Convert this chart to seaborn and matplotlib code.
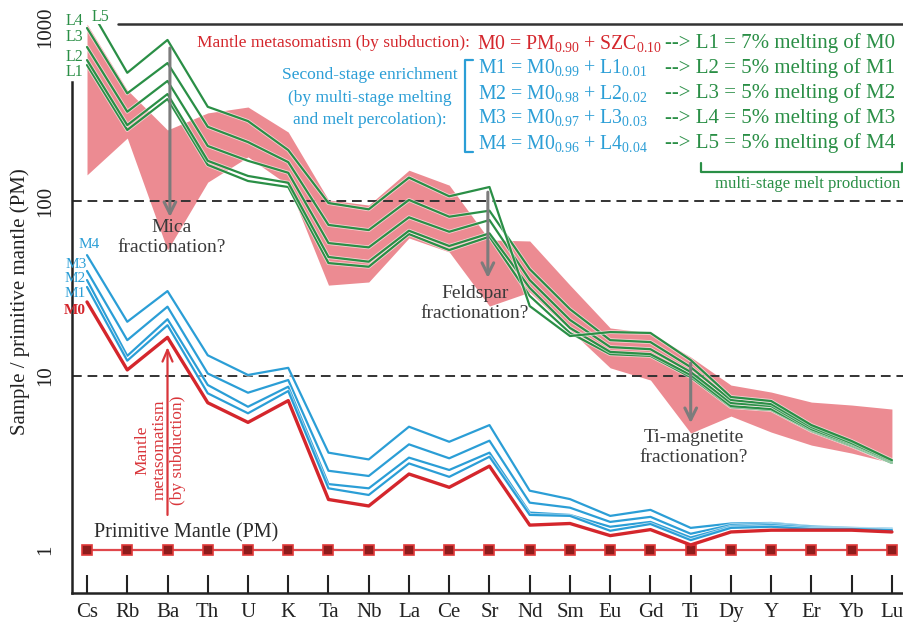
import matplotlib
matplotlib.use("Agg")
import matplotlib.pyplot as plt
import matplotlib.patheffects as pe
from matplotlib.ticker import NullLocator
import numpy as np
import pandas as pd
import seaborn as sns

# ---------------------------------------------------------------- data
elements = ["Cs", "Rb", "Ba", "Th", "U", "K", "Ta", "Nb", "La", "Ce", "Sr",
            "Nd", "Sm", "Eu", "Gd", "Ti", "Dy", "Y", "Er", "Yb", "Lu"]

# metasomatised sources (primitive-mantle normalised)
m0 = [26.5, 10.8, 16.6, 7.0, 5.4, 7.2, 1.95, 1.79, 2.73, 2.29, 3.03,
      1.39, 1.42, 1.21, 1.31, 1.07, 1.27, 1.30, 1.30, 1.30, 1.27]
m1 = [32.3, 12.2, 19.5, 7.93, 6.09, 8.17, 2.26, 2.07, 3.14, 2.63, 3.43,
      1.59, 1.57, 1.29, 1.41, 1.14, 1.34, 1.36, 1.32, 1.32, 1.30]
m2 = [35.4, 13.0, 21.1, 8.85, 6.64, 8.65, 2.39, 2.26, 3.39, 2.88, 3.62,
      1.64, 1.59, 1.36, 1.45, 1.18, 1.36, 1.39, 1.34, 1.33, 1.31]
m3 = [39.9, 16.0, 24.9, 10.3, 7.99, 9.45, 2.85, 2.66, 4.04, 3.36, 4.24,
      1.87, 1.75, 1.45, 1.55, 1.24, 1.39, 1.41, 1.36, 1.34, 1.32]
m4 = [49.2, 20.4, 30.6, 13.1, 10.1, 11.1, 3.62, 3.31, 5.10, 4.18, 5.21,
      2.19, 1.96, 1.57, 1.70, 1.34, 1.42, 1.43, 1.37, 1.34, 1.33]

# multi-stage melts
l1 = [606, 257, 387, 162, 131, 121, 44.3, 42.2, 65.0, 52.6, 62.8,
      28.7, 17.6, 13.3, 13.0, 9.83, 6.61, 6.36, 4.82, 3.95, 3.16]
l2 = [647, 274, 413, 171, 140, 128, 48.0, 45.1, 67.9, 55.5, 65.6,
      31.9, 18.8, 13.7, 13.3, 10.1, 6.70, 6.44, 4.88, 4.00, 3.16]
l3 = [769, 327, 491, 208, 171, 146, 57.7, 54.5, 81.1, 67.0, 78.2,
      35.4, 20.9, 14.6, 14.2, 10.5, 6.97, 6.70, 4.94, 4.06, 3.20]
l4 = [988, 417, 622, 268, 219, 168, 73.3, 68.5, 102, 81.7, 88.5,
      40.9, 24.1, 16.0, 15.6, 11.2, 7.26, 6.88, 5.08, 4.11, 3.24]
l5 = [1370, 547, 844, 349, 289, 197, 97.9, 90.1, 137, 107, 121,
      25.1, 16.9, 17.8, 17.6, 12.3, 7.55, 7.16, 5.21, 4.22, 3.28]

# observed sample range (shaded field)
band_hi = [1040, 436, 257, 322, 348, 250, 102, 95.3, 151, 124, 60.1,
           59.3, 33.1, 18.8, 17.6, 12.8, 8.84, 8.06, 7.06, 6.79, 6.44]
band_lo = [142, 231, 52.6, 129, 180, 124, 33.1, 34.5, 61.7, 51.3, 25.1,
           30.2, 18.3, 11.1, 9.45, 4.69, 5.87, 4.75, 4.00, 3.60, 3.16]

pm = [1.0] * len(elements)

# ---------------------------------------------------------------- style
sns.set_theme(style="white")
plt.rcParams["font.family"] = ["Liberation Serif", "DejaVu Serif"]
plt.rcParams["mathtext.fontset"] = "custom"
plt.rcParams["mathtext.rm"] = "Liberation Serif"
plt.rcParams["mathtext.it"] = "Liberation Serif:italic"
plt.rcParams["mathtext.bf"] = "Liberation Serif:bold"

GREEN = "#2a8f46"
BLUE = "#2b9ed6"
RED = "#d4262c"
PINK = "#ec8b92"
GREY = "#7c7c7c"
INK = "#222222"

W, H = 904, 625


def fx(x):
    return x / W


def fy(y):
    return 1 - y / H


pos = np.arange(len(elements))
rows = []
for name, vals in [("M0", m0), ("M1", m1), ("M2", m2), ("M3", m3), ("M4", m4),
                   ("L1", l1), ("L2", l2), ("L3", l3), ("L4", l4), ("L5", l5),
                   ("PM", pm)]:
    for p, v in zip(pos, vals):
        rows.append((name, p, v))
df = pd.DataFrame(rows, columns=["series", "pos", "value"])

fig = plt.figure(figsize=(W / 100, H / 100), dpi=100)
ax = fig.add_axes([fx(72), fy(593), fx(904) - fx(72), fy(24) - fy(593)])
ax.set_yscale("log")
ax.set_ylim(0.567, 1042)
ax.set_xlim(-0.373, 20.3)

# shaded field of samples
ax.fill_between(pos, band_lo, band_hi, color=PINK, lw=0, zorder=1)

# reference levels
for lvl in (10, 100):
    ax.axhline(lvl, color="#333333", ls=(0, (5, 3)), lw=1.4, zorder=2)

halo = [pe.Stroke(linewidth=2.8, foreground="white", alpha=0.6), pe.Normal()]

# primitive mantle
sns.lineplot(data=df[df.series == "PM"], x="pos", y="value", ax=ax,
             color="#e0474c", lw=1.6, marker="s", markersize=7,
             markerfacecolor="#8e1c1c", markeredgecolor="#e03a3a",
             markeredgewidth=1.2, estimator=None, legend=False, zorder=3)

# enriched sources
for name in ["M4", "M3", "M2", "M1"]:
    sns.lineplot(data=df[df.series == name], x="pos", y="value", ax=ax,
                 color=BLUE, lw=1.6, estimator=None, sort=False, legend=False,
                 path_effects=halo, zorder=4)
sns.lineplot(data=df[df.series == "M0"], x="pos", y="value", ax=ax,
             color=RED, lw=2.4, estimator=None, sort=False, legend=False,
             zorder=4.5)

# melts
for name in ["L1", "L2", "L3", "L4", "L5"]:
    sns.lineplot(data=df[df.series == name], x="pos", y="value", ax=ax,
                 color=GREEN, lw=1.6, estimator=None, sort=False, legend=False,
                 path_effects=halo, zorder=5)

# ---------------------------------------------------------------- axes
ax.set_xlabel("")
ax.set_ylabel("")
ax.set_xticks(pos)
ax.set_xticklabels(elements)
ax.set_yticks([1, 10, 100, 1000])
ax.set_yticklabels(["1", "10", "100", "1000"])
ax.yaxis.set_minor_locator(NullLocator())
ax.tick_params(axis="x", direction="in", length=13, width=1.5, color=INK,
               labelsize=15, labelcolor=INK, pad=7, bottom=True)
ax.tick_params(axis="y", length=0, labelsize=15, labelcolor=INK, pad=12,
               labelrotation=90, left=True)
for lab in ax.get_yticklabels():
    lab.set_verticalalignment("center")

for side in ("top", "right"):
    ax.spines[side].set_visible(False)
for side in ("left", "bottom"):
    ax.spines[side].set_color(INK)
    ax.spines[side].set_linewidth(1.8)
ax.spines["left"].set_bounds(0.567, 484)
ax.plot([(118 - 72) / 832, 1.0], [1.0, 1.0], transform=ax.transAxes,
        color="#333333", lw=1.8, clip_on=False, zorder=6)

fig.text(fx(20), fy(302), "Sample / primitive mantle (PM)", rotation=90,
         ha="center", va="center", fontsize=15, color=INK)

# ---------------------------------------------------------------- arrows
arrow_grey = dict(arrowstyle="->,head_length=0.7,head_width=0.35",
                  color=GREY, lw=2.2, shrinkA=0, shrinkB=0)
ax.annotate("", xy=(2.06, 81.4), xytext=(2.06, 759), arrowprops=arrow_grey,
            zorder=7)
ax.annotate("", xy=(9.96, 36.4), xytext=(9.96, 113), arrowprops=arrow_grey,
            zorder=7)
ax.annotate("", xy=(15.0, 5.35), xytext=(15.0, 11.8), arrowprops=arrow_grey,
            zorder=7)
ax.annotate("", xy=(2.0, 14.6), xytext=(2.0, 1.59),
            arrowprops=dict(arrowstyle="->,head_length=0.7,head_width=0.3",
                            color="#d9353a", lw=1.6, shrinkA=0, shrinkB=0),
            zorder=7)

note = dict(fontsize=14, color="#3a3a3a", ha="center", va="center")
fig.text(fx(172), fy(228), "Mica", **note)
fig.text(fx(172), fy(248), "fractionation?", **note)
fig.text(fx(475), fy(293), "Feldspar", **note)
fig.text(fx(475), fy(313), "fractionation?", **note)
fig.text(fx(694), fy(437), "Ti-magnetite", **note)
fig.text(fx(694), fy(458), "fractionation?", **note)

fig.text(fx(160), fy(450), "Mantle\nmetasomatism\n(by subduction)",
         rotation=90, ha="center", va="center", fontsize=12.5,
         color="#d9353a", linespacing=1.15, multialignment="center")

fig.text(fx(186), fy(533), "Primitive Mantle (PM)", ha="center", va="center",
         fontsize=14.5, color="#2a2a2a")

# ---------------------------------------------------------------- line labels
lab_kw = dict(fontsize=11.5, ha="center", va="center")
fig.text(fx(74), fy(72), "L1", color=GREEN, **lab_kw)
fig.text(fx(74), fy(57), "L2", color=GREEN, **lab_kw)
fig.text(fx(74), fy(37), "L3", color=GREEN, **lab_kw)
fig.text(fx(74), fy(21), "L4", color=GREEN, **lab_kw)
fig.text(fx(100), fy(17), "L5", color=GREEN, **lab_kw)
lab_m = dict(fontsize=11, ha="center", va="center")
fig.text(fx(89), fy(245), "M4", color=BLUE, **lab_m)
fig.text(fx(76), fy(264), "M3", color=BLUE, **lab_m)
fig.text(fx(75), fy(279), "M2", color=BLUE, **lab_m)
fig.text(fx(75), fy(294), "M1", color=BLUE, **lab_m)
fig.text(fx(75), fy(310), "M0", color=RED, fontweight="bold", **lab_m)

# ---------------------------------------------------------------- equations
eq = 14.2
fig.text(fx(470), fy(43), "Mantle metasomatism (by subduction):",
         ha="right", va="center", fontsize=12.5, color=RED)
fig.text(fx(477), fy(43),
         r"M0 = PM$_{\mathrm{0.90}}$ + SZC$_{\mathrm{0.10}}$",
         ha="left", va="center", fontsize=eq, color=RED)

row_y = [68, 93, 118, 143]
mix = [("M1", "0.99", "L1", "0.01"), ("M2", "0.98", "L2", "0.02"),
       ("M3", "0.97", "L3", "0.03"), ("M4", "0.96", "L4", "0.04")]
for y, (m, a, l, b) in zip(row_y, mix):
    fig.text(fx(478), fy(y),
             m + r" = M0$_{\mathrm{" + a + r"}}$ + " + l + r"$_{\mathrm{" + b + r"}}$",
             ha="left", va="center", fontsize=eq, color=BLUE)

melts = ["--> L1 = 7% melting of M0", "--> L2 = 5% melting of M1",
         "--> L3 = 5% melting of M2", "--> L4 = 5% melting of M3",
         "--> L5 = 5% melting of M4"]
for y, t in zip([43] + row_y, melts):
    fig.text(fx(665), fy(y), t, ha="left", va="center", fontsize=15,
             color=GREEN)

for y, t in zip([75, 98, 120], ["Second-stage enrichment",
                                "(by multi-stage melting",
                                "and melt percolation):"]):
    fig.text(fx(370), fy(y), t, ha="center", va="center", fontsize=12.5,
             color=BLUE)

# bracket grouping the source mixtures
fig.add_artist(plt.Line2D([fx(473), fx(465), fx(465), fx(473)],
                          [fy(60), fy(60), fy(152), fy(152)],
                          color=BLUE, lw=1.6))
# bracket grouping the melts
fig.add_artist(plt.Line2D([fx(701), fx(701), fx(902), fx(902)],
                          [fy(163), fy(172), fy(172), fy(163)],
                          color=GREEN, lw=1.6))
fig.text(fx(808), fy(184), "multi-stage melt production", ha="center",
         va="center", fontsize=12, color=GREEN)

fig.savefig("out.png", dpi=100)
